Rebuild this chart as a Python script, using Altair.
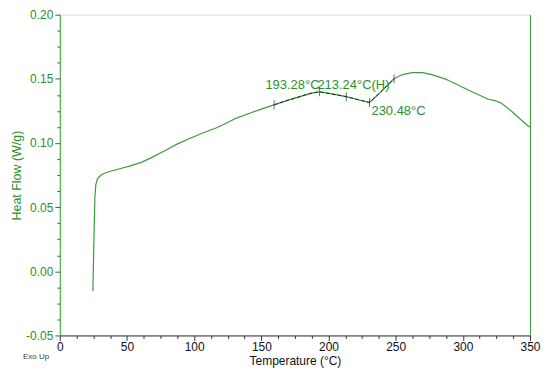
import altair as alt
import pandas as pd

# Heat-flow curve
temp = [24.6, 25.6, 26.1, 26.8, 28.1, 31.0, 34.7, 43.3, 53.2, 60.6, 67.9, 77.8, 87.6,
        97.5, 107.3, 117.2, 124.5, 131.9, 141.8, 151.6, 159.5, 168.8, 178.7, 186.0,
        193.0, 203.3, 213.2, 223.0, 230.4, 237.8, 248.8, 255.0, 262.4, 269.8, 277.1,
        287.0, 296.8, 306.7, 319.0, 323.9, 328.8, 336.2, 342.0, 348.5, 350.0]
heat = [-0.0153, 0.0347, 0.0575, 0.0676, 0.0722, 0.0752, 0.0770, 0.0795, 0.0823, 0.0849,
        0.0884, 0.0937, 0.0993, 0.1039, 0.1082, 0.1120, 0.1158, 0.1196, 0.1234, 0.1270,
        0.1297, 0.1330, 0.1361, 0.1385, 0.1399, 0.1381, 0.1361, 0.1335, 0.1315, 0.1386,
        0.1500, 0.1533, 0.1548, 0.1548, 0.1533, 0.1498, 0.1450, 0.1399, 0.1341, 0.1330,
        0.1310, 0.1247, 0.1193, 0.1133, 0.1125]

# analysis markers
mark_t = [159.5, 193.28, 213.24, 230.48, 248.8]
mark_hf = [0.1297, 0.1399, 0.1361, 0.1315, 0.1500]

# annotation labels
label_text = ["193.28°C", "213.24°C(H)", "230.48°C"]
label_t = [193.28, 213.24, 230.48]
label_hf = [0.1399, 0.1361, 0.1315]

y_ticks = [round(-0.05 + 0.0125 * i, 4) for i in range(21)]
x_ticks = [12.5 * i for i in range(29)]

GREEN = "#3c9c3c"
TEXT_GREEN = "#2a8f2a"
FONT = "Liberation Sans"

curve = pd.DataFrame({"T": temp, "HF": heat})
seg = curve[(curve["T"] >= 159.5) & (curve["T"] <= 248.8)]
marks = pd.DataFrame({"T": mark_t, "HF": mark_hf})

xscale = alt.Scale(domain=[0, 350], nice=False, zero=False)
yscale = alt.Scale(domain=[-0.05, 0.20], nice=False, zero=False)

MAJOR_Y = "abs(datum.value*20 - round(datum.value*20)) < 0.001"

x_axis = alt.Axis(
    values=x_ticks,
    labelExpr="datum.value % 50 == 0 ? format(datum.value, 'd') : ''",
    title="Temperature (°C)",
    grid=False,
    domainColor="#333333",
    tickColor="#333333",
    tickSize={"condition": {"test": "datum.value % 50 == 0", "value": 5}, "value": 3},
    labelColor="#111111",
    labelFontSize=12,
    labelFont=FONT,
    labelPadding=1,
    titleFont=FONT,
    titleFontSize=12,
    titleFontWeight="normal",
    titleColor="#111111",
    titlePadding=3,
    labelFlush=False,
)

y_axis = alt.Axis(
    values=y_ticks,
    labelExpr=MAJOR_Y + " ? replace(format(datum.value, '.2f'), '\u2212', '-') : ''",
    title="Heat Flow (W/g)",
    grid=False,
    domainColor=GREEN,
    tickColor="#555555",
    tickSize={"condition": {"test": MAJOR_Y, "value": 5}, "value": 3},
    labelColor=TEXT_GREEN,
    labelFontSize=12,
    labelFont=FONT,
    labelPadding=2,
    titleFont=FONT,
    titleFontSize=12.5,
    titleFontWeight="normal",
    titleColor=TEXT_GREEN,
    titlePadding=2,
    labelFlush=False,
)

X = alt.X("T:Q", scale=xscale, axis=x_axis)

base = alt.Chart(curve).mark_line(color=GREEN, strokeWidth=1.2).encode(
    x=X, y=alt.Y("HF:Q", scale=yscale, axis=y_axis)
)

right = alt.Chart(curve).mark_line(color=GREEN, strokeWidth=1.2, opacity=0).encode(
    x=X,
    y=alt.Y("HF:Q", scale=yscale,
            axis=alt.Axis(orient="right", labels=False, ticks=False, title=None,
                          grid=False, domainColor=GREEN)),
)

overlay = alt.Chart(seg).mark_line(color="#222222", strokeWidth=1, strokeDash=[4, 2]).encode(
    x=X, y=alt.Y("HF:Q", scale=yscale, axis=None)
)

ticks = alt.Chart(marks).mark_tick(orient="vertical", color="#333333", size=9, thickness=1).encode(
    x=X, y=alt.Y("HF:Q", scale=yscale, axis=None)
)

label_layers = []
label_styles = [
    dict(align="right", baseline="alphabetic", dx=0, dy=-3),
    dict(align="left", baseline="alphabetic", dx=-29, dy=-8),
    dict(align="left", baseline="top", dx=2, dy=2),
]
for txt, t, hf, st in zip(label_text, label_t, label_hf, label_styles):
    d = pd.DataFrame({"T": [t], "HF": [hf], "label": [txt]})
    label_layers.append(
        alt.Chart(d).mark_text(color=TEXT_GREEN, font=FONT, fontSize=13, **st).encode(
            x=X, y=alt.Y("HF:Q", scale=yscale, axis=None), text="label:N"
        )
    )

exo = alt.Chart(pd.DataFrame({"t": ["Exo Up"]})).mark_text(
    align="left", baseline="middle", fontSize=8, font=FONT, color="#444444"
).encode(x=alt.value(-37), y=alt.value(344), text="t:N")

chart = alt.layer(base, right, overlay, ticks, *label_layers, exo).resolve_axis(
    y="independent"
).properties(
    width=472,
    height=322,
    autosize=alt.AutoSizeParams(type="none"),
    padding={"left": 52, "top": 6, "right": 12, "bottom": 32},
).configure_view(stroke="#777777", strokeWidth=1).configure(background="white")

chart.save("out.html", embed_options={"renderer": "svg", "actions": False})
